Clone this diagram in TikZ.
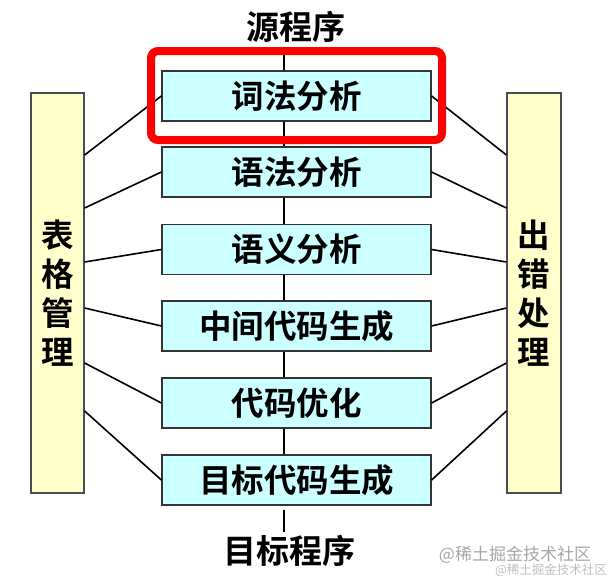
\documentclass[tikz,border=0pt]{standalone}
\usepackage{fontspec}
\newfontfamily\cjk{Noto Sans CJK SC}[BoldFont={Noto Sans CJK SC Bold}]
\definecolor{stagefill}{RGB}{204,255,255}
\definecolor{sidefill}{RGB}{255,255,204}
\begin{document}
\begin{tikzpicture}[x=1pt, y=-1pt,
  stage/.style={draw=black!80, fill=stagefill, line width=1.2pt, minimum width=269pt, minimum height=50pt, inner sep=0pt, font=\cjk\bfseries\fontsize{32.5}{32.5}\selectfont},
  side/.style={draw=black!70, fill=sidefill, line width=1.2pt, minimum height=400pt, inner sep=0pt, align=center, font=\cjk\bfseries\fontsize{32.5}{39}\selectfont},
  endtext/.style={inner sep=0pt, font=\cjk\bfseries\fontsize{33}{33}\selectfont},
  link/.style={-, line width=1.6pt, draw=black},
  hilite/.style={draw=red, line width=8pt, rounded corners=7pt, inner sep=0pt}]
\useasboundingbox (0,0) rectangle (614,582);
\coordinate (spine) at (284,0);
\node[endtext] (src) at (296,27) {源程序};
\node[endtext] (tgt) at (289,551) {目标程序};
\node[stage] (b1) at (296.5,96) {词法分析};
\node[stage] (b2) at (296.5,172) {语法分析};
\node[stage] (b3) at (296.5,249.5) {语义分析};
\node[stage] (b4) at (296.5,326) {中间代码生成};
\node[stage] (b5) at (296.5,403) {代码优化};
\node[stage] (b6) at (296.5,480) {目标代码生成};
\node[side, minimum width=53pt] (tbl) at (57.5,293) {表\\格\\管\\理};
\node[side, minimum width=54pt] (err) at (534,293) {出\\错\\处\\理};
\path [link, shorten <=4pt] (src.south -| spine) edge (b1.north -| spine);
\path [link] (b1.south -| spine) edge (b2.north -| spine);
\path [link] (b2.south -| spine) edge (b3.north -| spine);
\path [link] (b3.south -| spine) edge (b4.north -| spine);
\path [link] (b4.south -| spine) edge (b5.north -| spine);
\path [link] (b5.south -| spine) edge (b6.north -| spine);
\path [link, shorten <=4pt, shorten >=3pt] (b6.south -| spine) edge (tgt.north -| spine);
\path [link] (b1.west) edge (tbl.east |- 0,155);
\path [link] (b2.west) edge (tbl.east |- 0,208);
\path [link] (b3.west) edge (tbl.east |- 0,262);
\path [link] (b4.west) edge (tbl.east |- 0,308);
\path [link] (b5.west) edge (tbl.east |- 0,363);
\path [link] (b6.west) edge (tbl.east |- 0,411);
\path [link] (b1.east) edge (err.west |- 0,155);
\path [link] (b2.east) edge (err.west |- 0,208);
\path [link] (b3.east) edge (err.west |- 0,262);
\path [link] (b4.east) edge (err.west |- 0,308);
\path [link] (b5.east) edge (err.west |- 0,363);
\path [link] (b6.east) edge (err.west |- 0,411);
\node[hilite, minimum width=291pt, minimum height=89pt] (hl) at (296.5,95.5) {};
% watermark
\node[text=black!35, font=\cjk\fontsize{17}{17}\selectfont] (wm) at (515,555) {@稀土掘金技术社区};
\node[text=black!25, font=\cjk\fontsize{12.5}{12.5}\selectfont] (wm2) at (551,570) {@稀土掘金技术社区};
\end{tikzpicture}
\end{document}
